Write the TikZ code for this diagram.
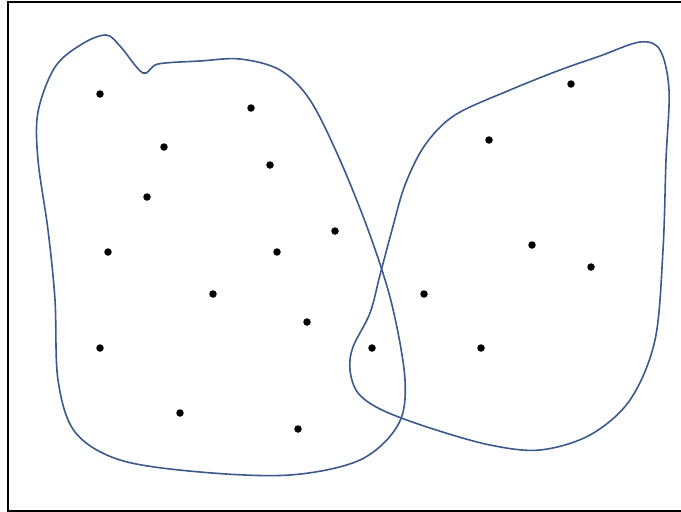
\documentclass[tikz,border=0pt]{standalone}
\definecolor{blobblue}{RGB}{59,89,140}
\tikzset{blob/.style={draw=blobblue, line width=1.6pt},
 dot/.style={circle, fill=black, inner sep=0pt, minimum size=7.5pt}}
\begin{document}
\begin{tikzpicture}[x=1pt,y=-1pt]
\useasboundingbox (0,0) rectangle (681,512);
\draw[line width=1.8pt] (8,2) rectangle (684,511);
% left blob
\draw[blob] plot[smooth cycle, tension=0.55] coordinates {
(143,73) (158,64) (200,61) (240,59) (280,70) (310,100) (340,160) (370,235)
(392,305) (405,380) (398,425) (360,460) (290,475) (200,472) (120,460)
(75,432) (58,380) (55,300) (48,230) (38,160) (38,112) (55,67) (82,44)
(106,35) (120,46)};
% right blob
\draw[blob] plot[smooth cycle, tension=0.55] coordinates {
(640,42) (600,56) (560,70) (510,90) (455,115) (425,145) (405,185) (392,230)
(380,275) (370,313) (353,347) (350,370) (358,393) (382,410) (430,428) (490,445)
(540,450) (590,435) (630,400) (655,340) (663,250) (666,160) (669,90) (660,50)};
% dots
\foreach \p/\q [count=\i] in {100/94, 251/108, 164/147, 270/165, 147/197, 335/231,
 108/252, 277/252, 213/294, 307/322, 100/348, 180/413, 298/429,
 571/84, 489/140, 532/245, 591/267, 424/294, 372/348, 481/348}
 \node[dot] (d\i) at (\p,\q) {};
\end{tikzpicture}
\end{document}
